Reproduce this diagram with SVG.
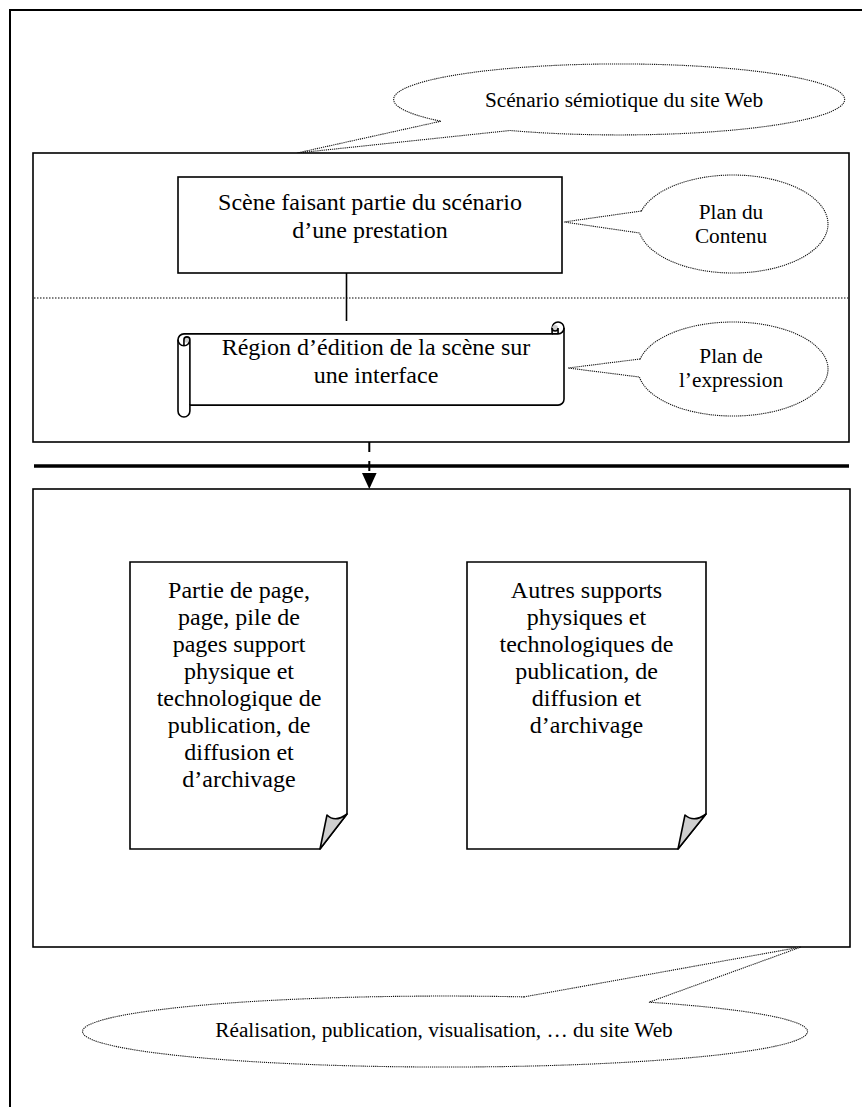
<svg xmlns="http://www.w3.org/2000/svg" width="862" height="1107" viewBox="0 0 862 1107">
<style>
.frame{fill:none;stroke:#000;stroke-width:2}
.box{fill:#fff;stroke:#000;stroke-width:1.6}
.callout{fill:#fff;stroke:#111;stroke-width:1.1;stroke-dasharray:1.2 0.9}
.sep{fill:none;stroke:#000;stroke-width:1.2;stroke-dasharray:1.5 1.5}
.t{font-family:"Liberation Serif","Times New Roman",serif;fill:#000;text-anchor:middle}
.tb{font-size:24px}
.tc{font-size:21.3px}
.flap{fill:#cfcfcf;stroke:#000;stroke-width:1.6;stroke-linejoin:round}
.curl{fill:#cfcfcf;stroke:none}
.det{fill:none;stroke:#000;stroke-width:1.6}
</style>
<defs>
<marker id="arrow" viewBox="0 0 16 14.6" refX="0" refY="7.3" markerWidth="16" markerHeight="14.6" markerUnits="userSpaceOnUse" orient="auto">
<path d="M0,0 L16,7.3 L0,14.6 Z" fill="#000"/>
</marker>
</defs>

<g id="outer-frame">
<path class="frame" d="M10,1107 V10 H862"/>
</g>

<g id="callout-top">
<path class="callout" d="M441,121.2 L297,153 L510,130.5 A225.5 35.5 0 1 0 441,121.2 Z"/>
<text class="t tc" x="624" y="107">Scénario sémiotique du site Web</text>
</g>

<g id="content-plane">
<rect class="box" x="33" y="153" width="816" height="289"/>
<line class="sep" x1="34" y1="298" x2="848" y2="298"/>
</g>

<g id="scene-box">
<rect class="box" x="178" y="177" width="384" height="96"/>
<text class="t tb" x="370" y="210">Scène faisant partie du scénario</text>
<text class="t tb" x="370" y="238">d’une prestation</text>
</g>

<g id="callout-contenu">
<path class="callout" d="M641.4,211 L564,222 L639.6,233 A95 49 0 1 0 641.4,211 Z"/>
<text class="t tc" x="731" y="219">Plan du</text>
<text class="t tc" x="731" y="243">Contenu</text>
</g>

<g id="scroll-region">
<path class="box" d="M178,339.84 A5.94 5.94 0 0 1 183.94,333.9 L552.1,333.9 L552.1,327.96 A5.94 5.94 0 0 1 564,327.96 L564,399.2 A5.94 5.94 0 0 1 558.06,405.1 L189.9,405.1 L189.9,411.06 A5.94 5.94 0 0 1 178,411.06 Z"/>
<circle class="curl" cx="555.09" cy="327.96" r="2.97"/>
<circle class="curl" cx="186.91" cy="339.84" r="2.97"/>
<path class="det" d="M552.1,333.9 L558.06,333.9 A5.94 5.94 0 0 0 564,327.96 M558.06,333.9 L558.06,327.96 A2.97 2.97 0 0 1 552.12,327.96 M183.94,345.8 L183.94,339.84 A2.97 2.97 0 0 1 189.88,339.84 A5.94 5.94 0 0 1 178,339.84 M189.9,339.84 L189.9,405.1"/>
<text class="t tb" x="376" y="355">Région d’édition de la scène sur</text>
<text class="t tb" x="376" y="383">une interface</text>
</g>

<g id="callout-expression">
<path class="callout" d="M640.2,359 L568,368 L639.4,377 A95 47 0 1 0 640.2,359 Z"/>
<text class="t tc" x="731" y="363">Plan de</text>
<text class="t tc" x="731" y="387">l’expression</text>
</g>

<g id="separator">
<line x1="34" y1="466" x2="849" y2="466" stroke="#000" stroke-width="3.4"/>
</g>

<g id="realisation-box">
<rect class="box" x="33" y="489" width="817" height="458"/>
</g>

<g id="doc-left">
<path class="box" d="M130,562 H347 V814 L320,849 H130 Z"/>
<path class="flap" d="M320,849 L327,815 Q335,823 347,814 Z"/>
<text class="t tb" x="239" y="598">Partie de page,</text>
<text class="t tb" x="239" y="625">page, pile de</text>
<text class="t tb" x="239" y="652">pages support</text>
<text class="t tb" x="239" y="679">physique et</text>
<text class="t tb" x="239" y="706">technologique de</text>
<text class="t tb" x="239" y="733">publication, de</text>
<text class="t tb" x="239" y="760">diffusion et</text>
<text class="t tb" x="239" y="787">d’archivage</text>
</g>

<g id="doc-right">
<path class="box" d="M467,562 H706 V814 L678,849 H467 Z"/>
<path class="flap" d="M678,849 L685,815 Q694,823 706,814 Z"/>
<text class="t tb" x="586.5" y="598">Autres supports</text>
<text class="t tb" x="586.5" y="625">physiques et</text>
<text class="t tb" x="586.5" y="652">technologiques de</text>
<text class="t tb" x="586.5" y="679">publication, de</text>
<text class="t tb" x="586.5" y="706">diffusion et</text>
<text class="t tb" x="586.5" y="733">d’archivage</text>
</g>

<g id="callout-bottom">
<path class="callout" d="M524,996.9 L801,947 L649,1002.2 A362.5 35.5 0 1 1 524,996.9 Z"/>
<text class="t tc" x="444" y="1037">Réalisation, publication, visualisation, … du site Web</text>
</g>

<g id="connectors">
<line x1="346.5" y1="273" x2="346.5" y2="321" stroke="#000" stroke-width="1.6"/>
<line x1="369.3" y1="442" x2="369.3" y2="473" stroke="#000" stroke-width="2" stroke-dasharray="10 9" marker-end="url(#arrow)"/>
</g>
</svg>
